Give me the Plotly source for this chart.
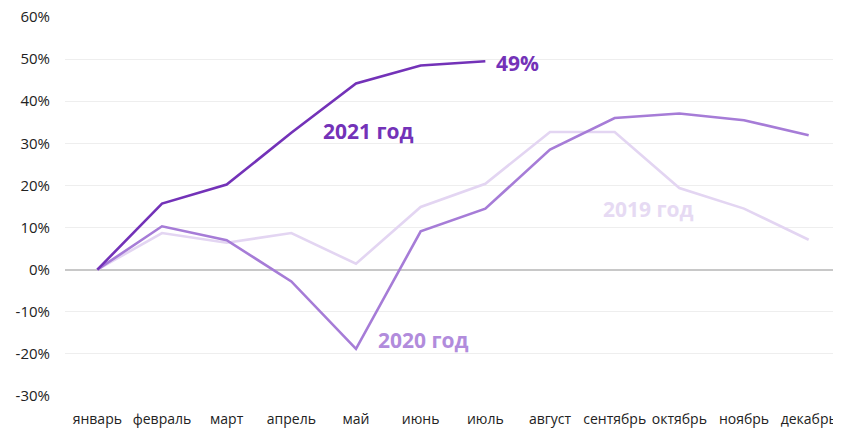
import plotly.graph_objects as go

months = ["январь", "февраль", "март", "апрель", "май", "июнь", "июль",
          "август", "сентябрь", "октябрь", "ноябрь", "декабрь"]
y2019 = [0, 8.7, 6.4, 8.7, 1.4, 14.9, 20.4, 32.7, 32.7, 19.4, 14.5, 7.1]
y2020 = [0, 10.3, 7.0, -2.8, -18.8, 9.1, 14.5, 28.5, 36.0, 37.1, 35.5, 31.9]
y2021 = [0, 15.7, 20.2, 32.5, 44.2, 48.5, 49.5]
yticks = [-30, -20, -10, 0, 10, 20, 30, 40, 50, 60]
yticklabels = [f"{v}%" for v in yticks]

c2019 = "#E3D5F2"
c2020 = "#A67CD7"
c2021 = "#7332B8"

fig = go.Figure()
fig.add_trace(go.Scatter(x=months, y=y2019, mode="lines",
                         line=dict(color=c2019, width=2.6), hoverinfo="skip"))
fig.add_trace(go.Scatter(x=months, y=y2020, mode="lines",
                         line=dict(color=c2020, width=2.6), hoverinfo="skip"))
fig.add_trace(go.Scatter(x=months[:len(y2021)], y=y2021, mode="lines",
                         line=dict(color=c2021, width=2.6), hoverinfo="skip"))

font_bold = "Open Sans"
fig.add_annotation(x=months[6], y=y2021[6], text="<b>49%</b>", showarrow=False,
                   xanchor="left", xshift=9, yshift=-2,
                   font=dict(family=font_bold, size=21, color=c2021))
fig.add_annotation(x=4.19, y=33.0, text="<b>2021 год</b>", showarrow=False,
                   font=dict(family=font_bold, size=21, color=c2021))
fig.add_annotation(x=5.04, y=-16.6, text="<b>2020 год</b>", showarrow=False,
                   font=dict(family=font_bold, size=21, color="#B18CDC"))
fig.add_annotation(x=8.53, y=14.5, text="<b>2019 год</b>", showarrow=False,
                   font=dict(family=font_bold, size=21, color="#E6DAF3"))

# page body has an 8px default margin, so the figure is sized to fit inside
fig.update_layout(
    width=833, height=423,
    margin=dict(l=57, r=0, t=9, b=35, autoexpand=False),
    paper_bgcolor="white", plot_bgcolor="white",
    showlegend=False,
    font=dict(family="Open Sans", size=14, color="#222222"),
    xaxis=dict(type="category", range=[-0.5, 11.5], showgrid=False,
               showline=False, zeroline=False, ticks="",
               ticklabelstandoff=13, ticklabeloverflow="allow",
               tickfont=dict(size=14, color="#222222")),
    yaxis=dict(range=[-30, 60], tickvals=yticks, ticktext=yticklabels,
               showgrid=True, gridcolor="#EEEEEE", gridwidth=1,
               zeroline=True, zerolinecolor="#C8C8C8", zerolinewidth=1.5,
               showline=False, ticks="", ticklabelstandoff=14,
               ticklabeloverflow="allow",
               tickfont=dict(size=15, color="#222222")),
)

fig.write_html("out.html")
